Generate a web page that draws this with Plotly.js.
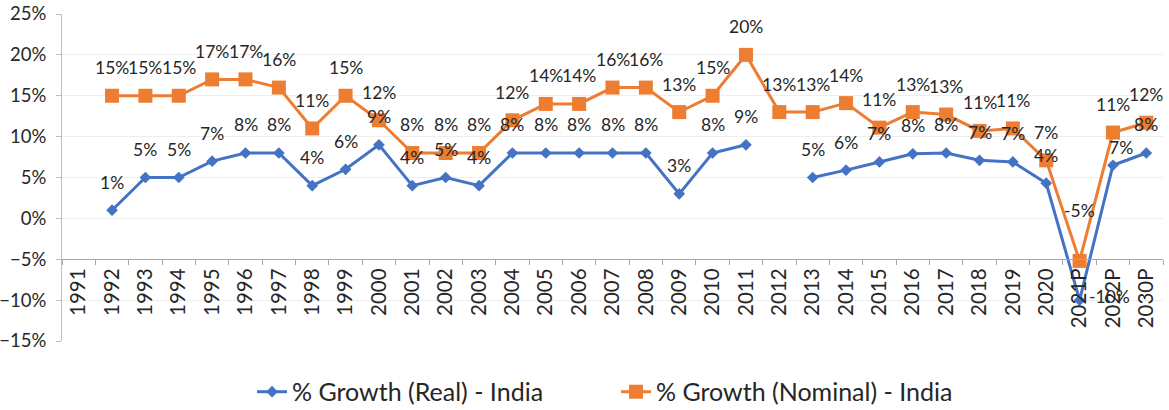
<!DOCTYPE html>
<html>
<head>
<meta charset="utf-8">
<script src="https://cdn.plot.ly/plotly-3.0.1.min.js"></script>
<style>html,body{margin:0;padding:0;background:#fff}#chart{width:1169px;height:410px}</style>
</head>
<body>
<div id="chart"></div>
<script>
const categories = ["1991","1992","1993","1994","1995","1996","1997","1998","1999","2000",
  "2001","2002","2003","2004","2005","2006","2007","2008","2009","2010",
  "2011","2012","2013","2014","2015","2016","2017","2018","2019","2020",
  "2021P","2022P","2030P"];
const realGrowth = [null,1,5,5,7,8,8,4,6,9,
  4,5,4,8,8,8,8,8,3,8,
  9,null,5,5.9,6.9,7.9,8,7.1,6.9,4.3,
  -10,6.5,8];
const nominalGrowth = [null,15,15,15,17,17,16,11,15,12,
  8,8,8,12,14,14,16,16,13,15,
  20,13,13,14.1,11.1,13,12.7,10.7,11,7.1,
  -5.2,10.5,11.7];
const seriesNames = ["% Growth (Real) - India","% Growth (Nominal) - India"];

const FONT = "Lato, 'Open Sans', sans-serif";
const TXT = "#262626";
const BLUE = "#4472C4", ORANGE = "#ED7D31";

// label placement tweaks (pixels), keyed by series index and category
const nudge = {
  "0|2021P": {xs: 30, ys: 4},
  "0|2022P": {xs: 8, ys: 18},
  "1|2021P": {xs: 0, ys: 50}
};

const traces = [
  {x: categories, y: realGrowth, name: seriesNames[0], type: "scatter", mode: "lines+markers",
   line: {color: BLUE, width: 3}, marker: {symbol: "diamond", size: 9, color: BLUE},
   connectgaps: false, hoverinfo: "skip"},
  {x: categories, y: nominalGrowth, name: seriesNames[1], type: "scatter", mode: "lines+markers",
   line: {color: ORANGE, width: 3}, marker: {symbol: "square", size: 14, color: ORANGE},
   connectgaps: false, hoverinfo: "skip"}
];

const annotations = [];
[realGrowth, nominalGrowth].forEach((arr, si) => {
  arr.forEach((v, i) => {
    if (v === null) return;
    const n = nudge[si + "|" + categories[i]] || {xs: 0, ys: 28};
    // category axis: position by category index
    annotations.push({x: i, y: v, xref: "x", yref: "y",
      text: Math.round(v) + "%", showarrow: false, xshift: n.xs, yshift: n.ys,
      font: {family: FONT, size: 17.5, color: TXT}});
  });
});

const layout = {
  width: 1169, height: 410,
  margin: {l: 62, r: 6, t: 14, b: 69},
  paper_bgcolor: "#fff", plot_bgcolor: "#fff",
  font: {family: FONT, size: 18.5, color: TXT},
  showlegend: true,
  legend: {orientation: "h", xref: "container", yref: "container",
    x: 0.2156, xanchor: "left", y: 0.044, yanchor: "middle",
    entrywidth: 319, entrywidthmode: "pixels",
    font: {family: FONT, size: 25, color: TXT}, itemwidth: 30, tracegroupgap: 0},
  xaxis: {type: "category", range: [-0.5, 32.5], anchor: "free", position: 0.25,
    showline: true, linecolor: "#a6a6a6", linewidth: 1,
    ticks: "outside", tickson: "boundaries", ticklen: 5, tickcolor: "#a6a6a6",
    tickangle: -90, showgrid: false, zeroline: false, automargin: false,
    tickfont: {family: FONT, size: 20.5, color: TXT}},
  yaxis: {range: [-15, 25], dtick: 5, ticksuffix: "%", showline: true, linecolor: "#bfbfbf",
    ticks: "outside", ticklen: 5, tickcolor: "#bfbfbf", gridcolor: "#eeeeee", zeroline: false,
    ticklabelstandoff: 6, automargin: false,
    tickfont: {family: FONT, size: 18.5, color: TXT}},
  annotations: annotations
};

Plotly.newPlot("chart", traces, layout, {displayModeBar: false, staticPlot: true});
</script>
</body>
</html>
